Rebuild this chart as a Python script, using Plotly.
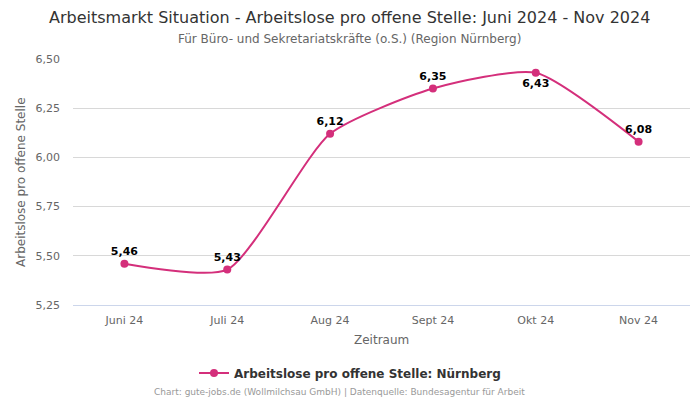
import plotly.graph_objects as go

categories = ["Juni 24", "Juli 24", "Aug 24", "Sept 24", "Okt 24", "Nov 24"]
values = [5.46, 5.43, 6.12, 6.35, 6.43, 6.08]
label_pos = ["top center", "top center", "top center", "top center", "bottom center", "top center"]
tick_vals = [5.25, 5.5, 5.75, 6.0, 6.25, 6.5]

color = "#d42f7b"
font = "DejaVu Sans"

# The page body adds an 8px offset; figure is sized to fit the 700x400 window.
W, H = 692, 392
L, R, T, B = 65, 10, 51, 95
PH = H - T - B
PW = W - L - R


def py(fig_y):
    return (H - B - fig_y) / PH


def px(fig_x):
    return (fig_x - L) / PW


fig = go.Figure()
fig.add_trace(go.Scatter(
    x=categories, y=values, mode="lines+markers+text",
    line=dict(color=color, width=2, shape="spline", smoothing=0.6),
    marker=dict(color=color, size=8),
    text=[f"{v:.2f}".replace(".", ",") for v in values],
    textposition=label_pos,
    textfont=dict(family=font, size=11, color="#000000", weight="bold"),
    name="Arbeitslose pro offene Stelle: Nürnberg",
    cliponaxis=False,
))

fig.update_layout(
    width=W, height=H,
    margin=dict(l=L, r=R, t=T, b=B, autoexpand=False),
    paper_bgcolor="white", plot_bgcolor="white",
    separators=",.",
    font=dict(family=font, color="#666666"),
    xaxis=dict(
        type="category", range=[-0.5, 5.5], automargin=False,
        showgrid=False, showline=True, linecolor="#ccd6eb", linewidth=1,
        ticks="", ticklabelstandoff=5, tickfont=dict(size=11, color="#666666"),
    ),
    yaxis=dict(
        range=[5.25, 6.5], tickvals=tick_vals, tickformat=".2f", automargin=False,
        showgrid=True, gridcolor="#d8d8d8", zeroline=False,
        tickfont=dict(size=11, color="#666666"), ticks="", ticklabelstandoff=12,
    ),
    showlegend=True,
    legend=dict(
        orientation="h", x=px(342), xanchor="center", y=py(365), yanchor="middle",
        font=dict(family=font, size=12, color="#333333", weight="bold"),
    ),
    annotations=[
        dict(text="Arbeitsmarkt Situation - Arbeitslose pro offene Stelle: Juni 2024 - Nov 2024",
             xref="paper", yref="paper", x=px(341.5), xanchor="center", y=py(9), yanchor="middle",
             showarrow=False, font=dict(family=font, size=16, color="#333333")),
        dict(text="Für Büro- und Sekretariatskräfte (o.S.) (Region Nürnberg)",
             xref="paper", yref="paper", x=px(341), xanchor="center", y=py(31), yanchor="middle",
             showarrow=False, font=dict(family=font, size=12, color="#666666")),
        dict(text="Zeitraum", xref="paper", yref="paper", x=0.5, xanchor="center",
             y=py(332), yanchor="middle", showarrow=False,
             font=dict(family=font, size=12, color="#666666")),
        dict(text="Arbeitslose pro offene Stelle", xref="paper", yref="paper", x=px(13),
             xanchor="center", y=0.5, yanchor="middle", textangle=-90, showarrow=False,
             font=dict(family=font, size=12, color="#666666")),
        dict(text="Chart: gute-jobs.de (Wollmilchsau GmbH) | Datenquelle: Bundesagentur für Arbeit",
             xref="paper", yref="paper", x=px(331.5), xanchor="center", y=py(384), yanchor="middle",
             showarrow=False, font=dict(family=font, size=9, color="#999999")),
    ],
)

fig.write_html("out.html")
